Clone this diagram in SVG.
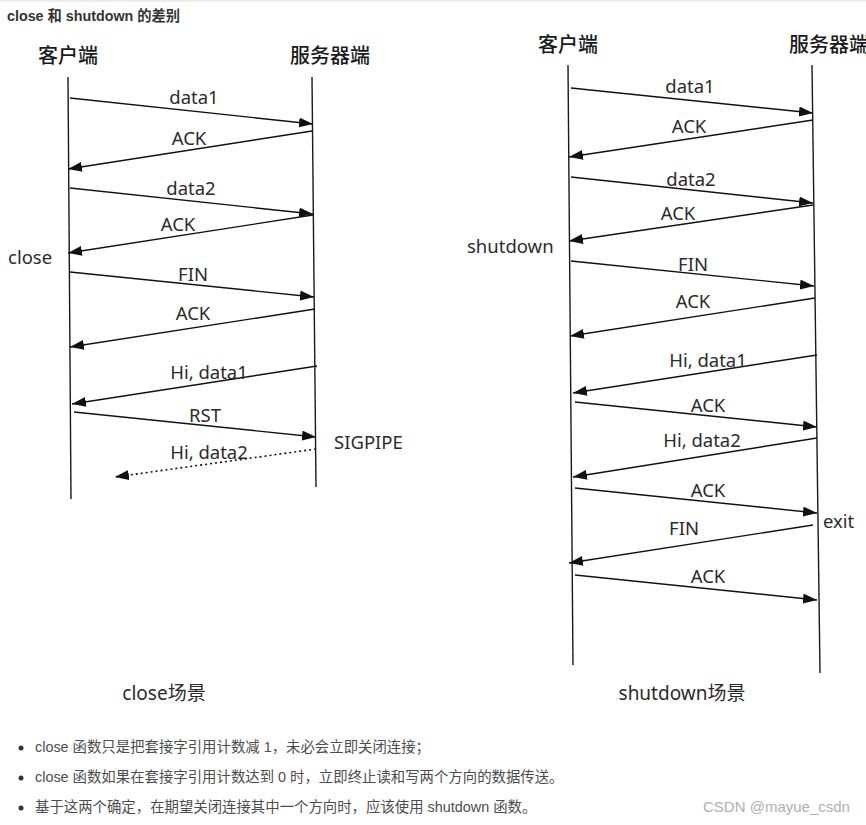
<svg xmlns="http://www.w3.org/2000/svg" width="866" height="825" viewBox="0 0 866 825">
<style>
  .bg{fill:#ffffff}
  .life{stroke:#1a1a1a;stroke-width:1.4;fill:none}
  .msg{stroke:#111;stroke-width:1.4;fill:none;marker-end:url(#ah)}
  .dot{stroke:#111;stroke-width:1.6;fill:none;stroke-dasharray:2 3;marker-end:url(#ah)}
  .lbl{font-family:"Noto Sans","Open Sans",sans-serif;font-size:18.5px;fill:#2b2b2b;text-anchor:middle}
  .side{font-family:"Noto Sans","Open Sans",sans-serif;font-size:18.5px;fill:#2b2b2b}
  .hdr{font-family:"Noto Sans CJK SC",sans-serif;font-size:20px;fill:#1a1a1a;font-weight:500}
  .cap{font-family:"Noto Sans","Noto Sans CJK SC",sans-serif;font-size:19px;fill:#2b2b2b;text-anchor:middle}
  .title{font-family:"Liberation Sans","Noto Sans CJK SC",sans-serif;font-size:14.3px;font-weight:bold;fill:#333}
  .bul{font-family:"Liberation Sans","Noto Sans CJK SC",sans-serif;font-size:14.4px;fill:#4d4d4d}
  .wm{font-family:"Liberation Sans","Noto Sans",sans-serif;font-size:15px;fill:#b0b0b0}
</style>
<defs>
  <marker id="ah" markerUnits="userSpaceOnUse" markerWidth="14" markerHeight="10" refX="14" refY="5" orient="auto">
    <path d="M0,0 L14,5 L0,10 z" fill="#111"/>
  </marker>
</defs>
<rect class="bg" x="0" y="0" width="866" height="825"/>
<rect x="0" y="0" width="866" height="2" fill="#ececec"/>
<text class="title" x="7" y="21">close 和 shutdown 的差别</text>

<!-- Left diagram -->
<g id="left-client">
  <text class="hdr" x="38" y="63">客户端</text>
  <line class="life" x1="68" y1="77" x2="71" y2="499"/>
</g>
<g id="left-server">
  <text class="hdr" x="290" y="63">服务器端</text>
  <line class="life" x1="312" y1="77" x2="316" y2="487"/>
</g>
<g id="left-connectors">
  <line class="msg" x1="70" y1="98" x2="313" y2="124"/>
  <line class="msg" x1="312" y1="131" x2="68" y2="169"/>
  <line class="msg" x1="70" y1="188" x2="313" y2="214"/>
  <line class="msg" x1="313" y1="215" x2="68" y2="253"/>
  <line class="msg" x1="70" y1="272" x2="314" y2="297"/>
  <line class="msg" x1="315" y1="309" x2="70" y2="347"/>
  <line class="msg" x1="317" y1="366" x2="72" y2="404"/>
  <line class="msg" x1="74" y1="412" x2="316" y2="437"/>
  <line class="dot" x1="316" y1="449" x2="115" y2="477"/>
</g>
<g id="left-labels">
  <text class="lbl" x="194" y="104">data1</text>
  <text class="lbl" x="189" y="145">ACK</text>
  <text class="lbl" x="191" y="195">data2</text>
  <text class="lbl" x="178" y="231">ACK</text>
  <text class="side" x="8" y="264">close</text>
  <text class="lbl" x="193" y="281">FIN</text>
  <text class="lbl" x="193" y="320">ACK</text>
  <text class="lbl" x="209" y="379">Hi, data1</text>
  <text class="lbl" x="205" y="422">RST</text>
  <text class="side" x="334" y="449">SIGPIPE</text>
  <text class="lbl" x="209" y="459">Hi, data2</text>
  <text class="cap" x="164" y="700">close场景</text>
</g>

<!-- Right diagram -->
<g id="right-client">
  <text class="hdr" x="538" y="52">客户端</text>
  <line class="life" x1="568" y1="65" x2="573" y2="665"/>
</g>
<g id="right-server">
  <text class="hdr" x="789" y="52">服务器端</text>
  <line class="life" x1="812" y1="65" x2="820" y2="673"/>
</g>
<g id="right-connectors">
  <line class="msg" x1="571" y1="88" x2="813" y2="113"/>
  <line class="msg" x1="813" y1="120" x2="569" y2="157"/>
  <line class="msg" x1="571" y1="177" x2="813" y2="203"/>
  <line class="msg" x1="813" y1="205" x2="569" y2="241"/>
  <line class="msg" x1="571" y1="261" x2="814" y2="286"/>
  <line class="msg" x1="815" y1="298" x2="570" y2="336"/>
  <line class="msg" x1="817" y1="355" x2="573" y2="393"/>
  <line class="msg" x1="575" y1="402" x2="817" y2="427"/>
  <line class="msg" x1="817" y1="438" x2="573" y2="477"/>
  <line class="msg" x1="575" y1="488" x2="817" y2="513"/>
  <line class="msg" x1="813" y1="525" x2="569" y2="563"/>
  <line class="msg" x1="575" y1="575" x2="817" y2="600"/>
</g>
<g id="right-labels">
  <text class="lbl" x="690" y="93">data1</text>
  <text class="lbl" x="689" y="133">ACK</text>
  <text class="lbl" x="691" y="186">data2</text>
  <text class="lbl" x="678" y="220">ACK</text>
  <text class="side" x="467" y="253">shutdown</text>
  <text class="lbl" x="693" y="271">FIN</text>
  <text class="lbl" x="693" y="308">ACK</text>
  <text class="lbl" x="708" y="367">Hi, data1</text>
  <text class="lbl" x="708" y="412">ACK</text>
  <text class="lbl" x="702" y="447">Hi, data2</text>
  <text class="lbl" x="708" y="497">ACK</text>
  <text class="side" x="823" y="528">exit</text>
  <text class="lbl" x="684" y="535">FIN</text>
  <text class="lbl" x="708" y="583">ACK</text>
  <text class="cap" x="682" y="700">shutdown场景</text>
</g>

<!-- Notes -->
<g id="notes">
  <circle cx="21" cy="748" r="2.5" fill="#333"/>
  <text class="bul" x="35" y="752">close 函数只是把套接字引用计数减 1，未必会立即关闭连接；</text>
  <circle cx="21" cy="778" r="2.5" fill="#333"/>
  <text class="bul" x="35" y="782">close 函数如果在套接字引用计数达到 0 时，立即终止读和写两个方向的数据传送。</text>
  <circle cx="21" cy="808" r="2.5" fill="#333"/>
  <text class="bul" x="35" y="812">基于这两个确定，在期望关闭连接其中一个方向时，应该使用 shutdown 函数。</text>
  <text class="wm" x="703" y="812">CSDN @mayue_csdn</text>
</g>
</svg>
